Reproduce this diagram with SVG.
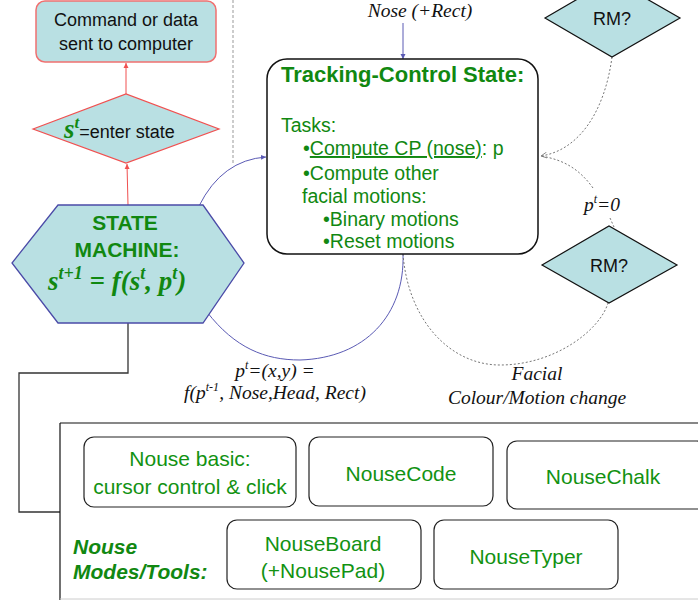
<svg xmlns="http://www.w3.org/2000/svg" width="698" height="600" viewBox="0 0 698 600">
<style>
.sans{font-family:"Liberation Sans",Arial,sans-serif}
.serif{font-family:"Liberation Serif","Times New Roman",serif}
.green{fill:#118811}
.lbl{font-family:"Liberation Serif","Times New Roman",serif;font-style:italic;font-size:19.5px;fill:#111}
.cyan{fill:#b9e0e3}
.tool{fill:#fff;stroke:#222;stroke-width:1.2}
.tooltxt{font-family:"Liberation Sans",Arial,sans-serif;font-size:21px;fill:#129212;text-anchor:middle}
.dot{fill:none;stroke:#777;stroke-width:1;stroke-dasharray:2,2}
.blue{fill:none;stroke:#5a5ab4;stroke-width:1}
.red{fill:none;stroke:#f05050;stroke-width:1}
</style>
<defs>
<marker id="ar" markerWidth="6" markerHeight="6" refX="5" refY="3" orient="auto" markerUnits="userSpaceOnUse"><path d="M0,0.5 L5,3 L0,5.5z" fill="#f05050"/></marker>
<marker id="ab" markerWidth="6" markerHeight="6" refX="5" refY="3" orient="auto" markerUnits="userSpaceOnUse"><path d="M0,0.5 L5,3 L0,5.5z" fill="#5a5ab4"/></marker>
<marker id="ag" markerWidth="7" markerHeight="7" refX="6" refY="3.5" orient="auto" markerUnits="userSpaceOnUse"><path d="M0,0.5 L6,3.5 L0,6.5" fill="none" stroke="#777" stroke-width="0.8"/></marker>
</defs>

<g id="connectors">
<line x1="233" y1="0" x2="233" y2="165" stroke="#999" stroke-width="1" stroke-dasharray="3,2"/>
<line class="red" x1="126" y1="94" x2="126" y2="63" marker-end="url(#ar)"/>
<line class="red" x1="128" y1="205" x2="127" y2="164" marker-end="url(#ar)"/>
<line class="blue" x1="403" y1="23" x2="403" y2="59" marker-end="url(#ab)"/>
<path class="blue" d="M199,206 Q222,160 266,157" marker-end="url(#ab)"/>
<path class="blue" d="M207,312 C235,348 265,360 300,360 C365,358 405,315 403,254"/>
<path class="dot" d="M403,254 C408,320 450,365 500,365 C555,365 600,330 608,303"/>
<path class="dot" d="M612,57 C605,110 580,150 541,156" marker-end="url(#ag)"/>
<path class="dot" d="M593,188 C580,170 565,160 541,156"/>
<line class="dot" x1="610" y1="218" x2="614" y2="227"/>
<polyline points="128,323 128,373 19,373 19,512 60,512" fill="none" stroke="#333" stroke-width="1.3"/>
</g>

<g id="cmd">
<rect x="36" y="1" width="180" height="61" rx="9" class="cyan" stroke="#f07070" stroke-width="1.5"/>
<text class="sans" font-size="18" text-anchor="middle" x="126" y="26" fill="#111">Command or data</text>
<text class="sans" font-size="18" text-anchor="middle" x="126" y="50" fill="#111">sent to computer</text>
</g>

<g id="enter">
<polygon points="33,129 126,94 219,129 126,163" class="cyan" stroke="#f05050" stroke-width="1.2"/>
<text x="64" y="138" fill="#111"><tspan class="serif green" font-weight="bold" font-style="italic" font-size="27">s</tspan><tspan class="serif green" font-weight="bold" font-style="italic" font-size="17" dy="-10">t</tspan><tspan class="sans" font-size="18" dy="10">=enter state</tspan></text>
</g>

<g id="statemachine">
<polygon points="58,205 203,205 244,263 203,323 58,323 12,263" class="cyan" stroke="#4b4ba8" stroke-width="1.3"/>
<text class="sans green" font-weight="bold" font-size="21" text-anchor="middle" x="125" y="230">STATE</text>
<text class="sans green" font-weight="bold" font-size="21" text-anchor="middle" x="127" y="257">MACHINE:</text>
<text class="serif green" font-weight="bold" font-style="italic" font-size="27" x="48" y="290">s<tspan font-size="18" dy="-11">t+1</tspan><tspan dy="11"> = f(s</tspan><tspan font-size="18" dy="-11">t</tspan><tspan dy="11">, p</tspan><tspan font-size="18" dy="-11">t</tspan><tspan dy="11">)</tspan></text>
</g>

<g id="tracking">
<rect x="267" y="59" width="271" height="195" rx="20" fill="#fff" stroke="#111" stroke-width="1.5"/>
<text class="sans green" font-weight="bold" font-size="22" x="281" y="82">Tracking-Control State:</text>
<g class="sans green" font-size="19.5">
<text x="281" y="132">Tasks:</text>
<text x="303" y="155">•<tspan text-decoration="underline">Compute CP (nose)</tspan>: p</text>
<text x="303" y="180">•Compute other</text>
<text x="302" y="203">facial motions:</text>
<text x="323" y="226">•Binary motions</text>
<text x="323" y="248">•Reset motions</text>
</g>
</g>

<g id="rm1">
<polygon points="545,18 612,-21 680,18 612,57" class="cyan" stroke="#111" stroke-width="1.2"/>
<text class="sans" font-size="18" text-anchor="middle" x="612" y="25" fill="#111">RM?</text>
</g>
<g id="rm2">
<polygon points="542,265 609,226 677,265 609,303" class="cyan" stroke="#111" stroke-width="1.2"/>
<text class="sans" font-size="18" text-anchor="middle" x="609" y="272" fill="#111">RM?</text>
</g>

<g id="labels">
<text class="lbl" x="420" y="17" font-size="18.5" text-anchor="middle">Nose (+Rect)</text>
<text class="lbl" x="602" y="211" text-anchor="middle">p<tspan font-size="12" dy="-8">t</tspan><tspan dy="8">=0</tspan></text>
<text class="lbl" x="275" y="377" text-anchor="middle">p<tspan font-size="12" dy="-8">t</tspan><tspan dy="8">=(x,y) =</tspan></text>
<text class="lbl" x="275" y="399" text-anchor="middle">f(p<tspan font-size="12" dy="-8">t-1</tspan><tspan dy="8">, Nose,Head, Rect)</tspan></text>
<text class="lbl" x="537" y="380" text-anchor="middle">Facial</text>
<text class="lbl" x="537" y="404" text-anchor="middle">Colour/Motion change</text>
</g>

<g id="modes">
<line x1="60" y1="423" x2="698" y2="423" stroke="#111" stroke-width="1.2"/>
<line x1="60" y1="423" x2="60" y2="600" stroke="#111" stroke-width="1.2"/>
<line x1="60" y1="599" x2="698" y2="599" stroke="#ccc" stroke-width="1"/>
<text class="sans green" font-weight="bold" font-style="italic" font-size="21" x="73" y="554">Nouse</text>
<text class="sans green" font-weight="bold" font-style="italic" font-size="21" x="73" y="579">Modes/Tools:</text>
</g>
<g id="nousebasic">
<rect class="tool" x="84" y="437" width="212" height="70" rx="10"/>
<text class="tooltxt" x="190" y="466">Nouse basic:</text>
<text class="tooltxt" x="190" y="494">cursor control &amp; click</text>
</g>
<g id="nousecode">
<rect class="tool" x="309" y="437" width="184" height="69" rx="10"/>
<text class="tooltxt" x="401" y="481">NouseCode</text>
</g>
<g id="nousechalk">
<rect class="tool" x="507" y="441" width="200" height="68" rx="10"/>
<text class="tooltxt" x="603" y="484">NouseChalk</text>
</g>
<g id="nouseboard">
<rect class="tool" x="227" y="520" width="194" height="69" rx="10"/>
<text class="tooltxt" x="323" y="551">NouseBoard</text>
<text class="tooltxt" x="323" y="578">(+NousePad)</text>
</g>
<g id="nousetyper">
<rect class="tool" x="434" y="520" width="184" height="69" rx="10"/>
<text class="tooltxt" x="526" y="564">NouseTyper</text>
</g>
</svg>
